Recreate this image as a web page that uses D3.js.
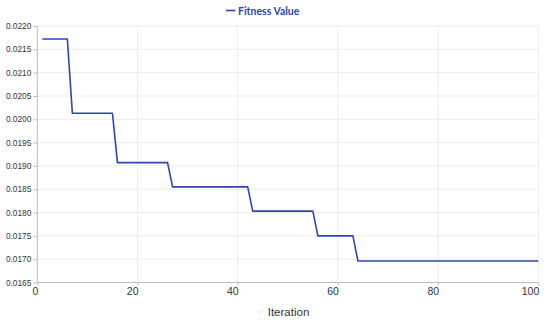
<!DOCTYPE html>
<html><head><meta charset="utf-8">
<script src="https://cdn.jsdelivr.net/npm/d3@7"></script>
<style>body{margin:0;background:#fff}svg{display:block}</style>
</head><body><svg id="c" width="550" height="323"></svg>
<script>
// Data: fitness value per iteration (step levels)
const levels = [0.02172, 0.02013, 0.01907, 0.01855, 0.01803, 0.01750, 0.01696];
const levelStarts = [1, 7, 16, 27, 43, 56, 64];
const lastIteration = 100;
const xTicks = [0, 20, 40, 60, 80, 100];
const yTicks = [0.0165,0.0170,0.0175,0.0180,0.0185,0.0190,0.0195,0.0200,0.0205,0.0210,0.0215,0.0220];
const seriesName = "Fitness Value";

const iterations = d3.range(1, lastIteration + 1);
const values = iterations.map(it => {
  let v = levels[0];
  levelStarts.forEach((s, i) => { if (it >= s) v = levels[i]; });
  return v;
});
const data = iterations.map((it, i) => ({x: it, y: values[i]}));

const svg = d3.select("#c");
const L = 37.3, R = 538.3, T = 26, B = 282.5;
const x = d3.scaleLinear().domain([0, 100]).range([L, R]);
const y = d3.scaleLinear().domain([0.0165, 0.0220]).range([B, T]);
const color = "#2c46b1";
const gridC = "#ececec";

// grid
svg.append("g").selectAll("line").data(yTicks).join("line")
  .attr("x1", L).attr("x2", R).attr("y1", d => y(d)).attr("y2", d => y(d))
  .attr("stroke", gridC).attr("stroke-width", 1);
svg.append("g").selectAll("line").data(xTicks.slice(1)).join("line")
  .attr("x1", d => x(d)).attr("x2", d => x(d)).attr("y1", T).attr("y2", B)
  .attr("stroke", gridC).attr("stroke-width", 1);

// y axis
const yAxis = d3.axisLeft(y).tickValues(yTicks).tickFormat(d3.format(".4f")).tickSize(4).tickPadding(2);
const gy = svg.append("g").attr("transform", `translate(${L},0)`).call(yAxis);
gy.select(".domain").attr("stroke", "#bdbdbd").attr("d", `M0,${T}V${B}`);
gy.selectAll(".tick line").attr("stroke", "#bdbdbd");
gy.selectAll(".tick text").attr("fill", "#333").style("font-family", "'Liberation Sans', Arial, sans-serif").style("font-size", "8.3px");

// x axis
const xAxis = d3.axisBottom(x).tickValues(xTicks).tickFormat(d3.format("d")).tickSize(3).tickPadding(2);
const gx = svg.append("g").attr("transform", `translate(0,${B})`).call(xAxis);
gx.select(".domain").attr("stroke", "#bdbdbd").attr("d", `M${L},0H${R}`);
gx.selectAll(".tick line").attr("stroke", "#bdbdbd");
gx.selectAll(".tick text").attr("fill", "#333").attr("text-anchor", "end").attr("dx", "0.5")
  .style("font-family", "'Liberation Sans', Arial, sans-serif").style("font-size", "10.5px");

svg.append("text").attr("x", 288.5).attr("y", 315.5).attr("text-anchor", "middle")
  .attr("fill", "#333").style("font-family", "'Liberation Sans', Arial, sans-serif").style("font-size", "11.5px")
  .text("Iteration");

// line
const line = d3.line().x(d => x(d.x)).y(d => y(d.y));
svg.append("path").datum(data).attr("d", line).attr("fill", "none")
  .attr("stroke", color).attr("stroke-width", 1.6).attr("stroke-linejoin", "round");

// legend
svg.append("line").attr("x1", 226).attr("x2", 235.5).attr("y1", 10.5).attr("y2", 10.5)
  .attr("stroke", color).attr("stroke-width", 1.6);
svg.append("text").attr("x", 238).attr("y", 15.3).attr("fill", color)
  .style("font-family", "Lato, sans-serif").style("font-weight", "700").style("font-size", "10.5px")
  .text(seriesName);
</script></body></html>
